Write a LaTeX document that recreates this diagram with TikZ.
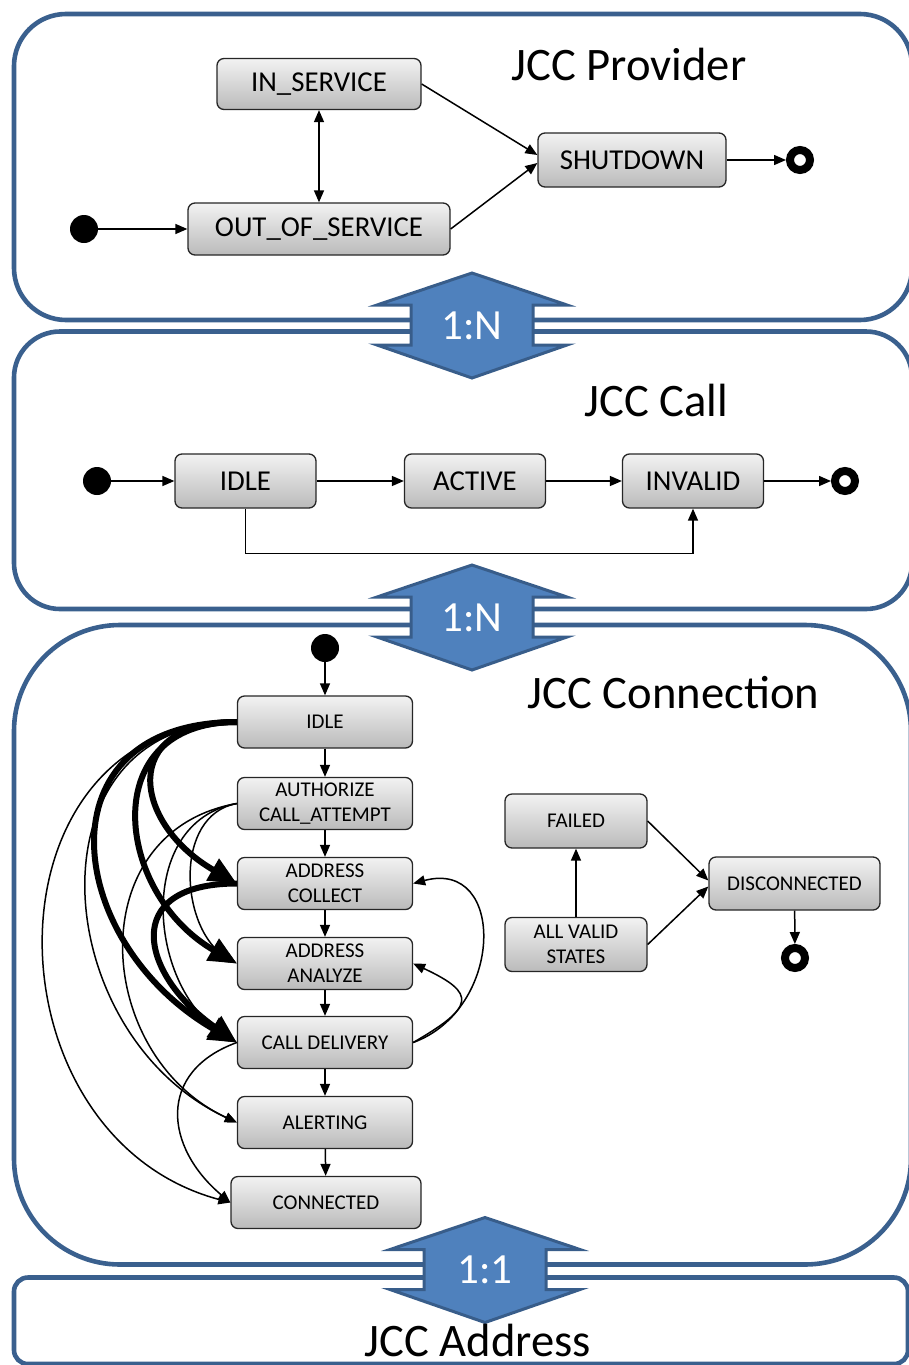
\documentclass[tikz,border=0pt]{standalone}
\usepackage{fontspec}
\setmainfont{Carlito}
\usetikzlibrary{arrows.meta}
\tikzset{>={Triangle[length=6pt,width=5pt]}}
\definecolor{panelblue}{RGB}{58,96,142}
\definecolor{linkblue}{RGB}{79,129,189}
\definecolor{linkedge}{RGB}{56,93,138}
% up/down arrow between two panels: x, y, label, name
\newcommand{\cardlink}[4]{%
  \draw[linkshape] (#1,#2) ++(0,-52.5) -- ++(95,32) -- ++(-34,0) -- ++(0,40) -- ++(34,0)
    -- ++(-95,33) -- ++(-95,-33) -- ++(34,0) -- ++(0,-40) -- ++(-34,0) -- cycle;
  \node[linklabel] (#4) at (#1,#2) {#3};
}

\begin{document}
\begin{tikzpicture}[
  x=0.5pt, y=-0.5pt,
  panel/.style={draw=panelblue, line width=2.3pt},
  title/.style={anchor=base, font=\fontsize{23.3}{26}\selectfont},
  linkshape/.style={fill=linkblue, draw=linkedge, line width=1.5pt, line join=miter},
  linklabel/.style={text=white, font=\fontsize{21.5}{24}\selectfont, inner sep=0pt},
  state/.style={draw=black!85, line width=0.65pt, rounded corners=3.5pt,
    top color=black!5, bottom color=black!27, inner sep=1pt, align=center},
  bigstate/.style={state, font=\fontsize{14.4}{16}\selectfont, minimum height=26pt},
  smallstate/.style={state, font=\fontsize{10.5}{12.5}\selectfont,
    minimum width=87.5pt, minimum height=26pt},
  initstate/.style={circle, fill=black, minimum size=14pt, inner sep=0pt},
  finalstate/.style={circle, draw=black, line width=4pt, fill=white,
    minimum size=10pt, inner sep=0pt},
  edge/.style={->, line width=0.75pt},
  heavy/.style={line width=3pt, -{Triangle[length=14pt,width=12pt]}}
]
  \clip (0,0) rectangle (909,1365);
  % panels
  \draw[panel, rounded corners=26pt] (14,14) rectangle (912,320);
  \draw[panel, rounded corners=23pt] (14,331.5) rectangle (912,609);
  \draw[panel, rounded corners=53pt] (14,625) rectangle (911,1264.5);
  \draw[panel, rounded corners=7pt] (14,1277.5) rectangle (908,1364);
  \cardlink{472}{325.5}{1:N}{link1}
  \cardlink{472}{617.5}{1:N}{link2}
  \cardlink{485}{1270}{1:1}{link3}
  \node[title] (tprovider) at (629,80) {JCC Provider};
  \node[title] (tcall) at (656.5,416) {JCC Call};
  \node[title] (tconn) at (673.5,708) {JCC Connection};
  \node[title] (taddress) at (478,1356) {JCC Address};

  % JCC Provider
  \node[bigstate, minimum width=102pt, minimum height=25.5pt] (insvc) at (319,84) {IN\_SERVICE};
  \node[bigstate, minimum width=131pt] (outsvc) at (319,229) {OUT\_OF\_SERVICE};
  \node[bigstate, minimum width=94pt, minimum height=27pt] (shut) at (632,160) {SHUTDOWN};
  \node[initstate] (pinit) at (84,229) {};
  \node[finalstate] (pfinal) at (800,160) {};
  \draw[edge] (pinit) -- (outsvc);
  \draw[<->, line width=0.75pt] (insvc) -- (outsvc);
  \draw[edge] (insvc.east) -- ([yshift=2.5pt]shut.west);
  \draw[edge] (outsvc.east) -- ([yshift=-1.5pt]shut.west);
  \draw[edge] (shut) -- (pfinal);

  % JCC Call
  \node[bigstate, minimum width=70.5pt, minimum height=27pt] (callidle) at (245.5,481) {IDLE};
  \node[bigstate, minimum width=70.5pt, minimum height=27pt] (callactive) at (475,481) {ACTIVE};
  \node[bigstate, minimum width=70.5pt, minimum height=27pt] (callinvalid) at (693,481) {INVALID};
  \node[initstate] (callinit) at (97,481) {};
  \node[finalstate] (callfinal) at (845,481) {};
  \draw[edge] (callinit) -- (callidle);
  \draw[edge] (callidle) -- (callactive);
  \draw[edge] (callactive) -- (callinvalid);
  \draw[edge] (callinvalid) -- (callfinal);
  \draw[edge] (callidle.south) -- ++(0,45) -| (callinvalid.south);

  % JCC Connection
  \node[initstate] (cninit) at (325,648) {};
  \node[smallstate] (cnidle) at (325,722) {IDLE};
  \node[smallstate] (cnauth) at (325,803.5) {AUTHORIZE\\CALL\_ATTEMPT};
  \node[smallstate] (cncollect) at (325,883.5) {ADDRESS\\COLLECT};
  \node[smallstate] (cnanalyze) at (325,963.5) {ADDRESS\\ANALYZE};
  \node[smallstate] (cndelivery) at (325,1042.5) {CALL DELIVERY};
  \node[smallstate] (cnalerting) at (325,1122.5) {ALERTING};
  \node[smallstate, minimum width=95pt] (cnconnected) at (326,1202.5) {CONNECTED};
  \node[smallstate, minimum width=71pt, minimum height=27pt] (cnfailed) at (576,821) {FAILED};
  \node[smallstate, minimum width=71pt, minimum height=27pt] (cnvalid) at (576,944.5) {ALL VALID\\STATES};
  \node[smallstate, minimum width=85.5pt, minimum height=26.5pt] (cndisc) at (794.5,883.5) {DISCONNECTED};
  \node[finalstate] (cnfinal) at (795,958) {};
  \draw[edge] (cninit) -- (cnidle);
  \draw[edge] (cnidle) -- (cnauth);
  \draw[edge] (cnauth) -- (cncollect);
  \draw[edge] (cncollect) -- (cnanalyze);
  \draw[edge] (cnanalyze) -- (cndelivery);
  \draw[edge] (cndelivery) -- (cnalerting);
  \draw[edge] (cnalerting) -- (cnconnected);
  \draw[edge] (cnvalid) -- (cnfailed);
  \draw[edge] (cnfailed.east) -- ([yshift=1.5pt]cndisc.west);
  \draw[edge] (cnvalid.east) -- ([yshift=-1.5pt]cndisc.west);
  \draw[edge] (cndisc) -- (cnfinal);
  % heavy jumps
  \draw[heavy] (cnidle.west) to[out=180,in=150,looseness=1.9] (cncollect.west);
  \draw[heavy] (cnidle.west) to[out=180,in=150,looseness=1.5] (cnanalyze.west);
  \draw[heavy] (cnidle.west) to[out=180,in=150,looseness=1.6] (cndelivery.west);
  \draw[heavy] (cncollect.west) to[out=180,in=145,looseness=1.9] (cndelivery.west);
  % thin jumps
  \draw[edge] (cnidle.west) to[out=180,in=155,looseness=1.35] (cnalerting.west);
  \draw[edge] (cnidle.west) to[out=180,in=165,looseness=1.37] (cnconnected.west);
  \draw[edge] (cnauth.west) to[out=190,in=150,looseness=1.05] (cnanalyze.west);
  \draw[edge] (cnauth.west) to[out=190,in=150,looseness=1.12] (cndelivery.west);
  \draw[edge] (cnauth.west) to[out=190,in=155,looseness=1.28] (cnalerting.west);
  \draw[edge] (cndelivery.west) to[out=200,in=140,looseness=1.37] (cnconnected.west);
  % back to address states
  \draw[edge] (cndelivery.east) to[out=20,in=15,looseness=1.56] (cncollect.east);
  \draw[edge] (cndelivery.east) to[out=30,in=-25,looseness=2.3] (cnanalyze.east);
\end{tikzpicture}
\end{document}
